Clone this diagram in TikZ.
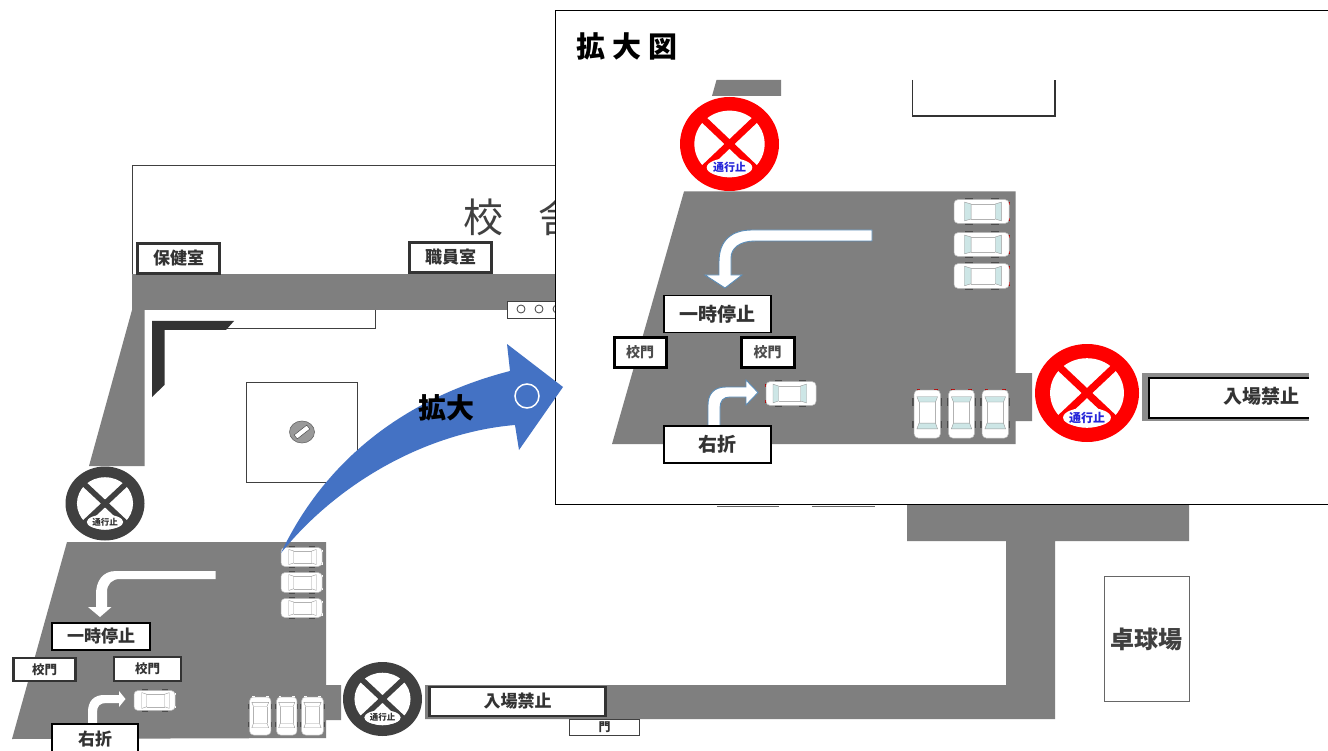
\documentclass[tikz,border=0pt]{standalone}
\usepackage{fontspec}
\setmainfont{Noto Sans CJK JP}
\usepackage{tikz}
\definecolor{roadgray}{HTML}{7F7F7F}
\definecolor{arrowblue}{HTML}{4472C4}
\definecolor{glassblue}{HTML}{CDE6E6}
\definecolor{rimblue}{HTML}{5B8DB8}
\tikzset{
	px/.style={font=\bfseries\fontsize{#1}{#1}\selectfont},
	labelbox/.style={draw=black, fill=white, line width=2.2pt, inner sep=0pt},
	thinbox/.style={draw=black!75, fill=white, line width=0.8pt},
	plainline/.style={draw=black!75, line width=0.9pt},
	road/.style={fill=roadgray},
}
% name, colours, centre, radii, label size
\def\nosign#1[#2,#3](#4,#5)(#6:#7)#8{%
	\begin{scope}[shift={(#4,#5)},xscale=#6,yscale=#7]
		\fill[#2] (0,0) circle (1);
		\fill[white] (0,0) circle (0.71);
		\draw[#2, line width=#6*0.14pt] (-0.6,-0.6) -- (0.6,0.6);
		\draw[#2, line width=#6*0.14pt] (0.6,-0.6) -- (-0.6,0.6);
		\fill[white] (0,0.5) ellipse (0.46 and 0.2);
		\node[#3, px=#8] (#1) at (0,0.5) {通行止};
	\end{scope}}
% centre, length and width, angle, glass and lamp colours
\def\caricon(#1,#2)(#3:#4)[#5]#6#7{%
	\begin{scope}[shift={(#1,#2)},rotate=#5,xscale=#3/2,yscale=#4/2]
		\fill[black!70] (-0.6,-1.08) rectangle (-0.3,1.08);
		\fill[black!70] (0.35,-1.08) rectangle (0.65,1.08);
		\fill[#7] (0.96,-0.75) rectangle (1.04,-0.5);
		\fill[#7] (0.96,0.75) rectangle (1.04,0.5);
		\draw[draw=black!25, fill=white, rounded corners=4pt, line width=0.5pt] (-1,-0.95) rectangle (1,0.95);
		\draw[draw=black!40, fill=#6, line width=0.4pt] (-0.62,-0.75) -- (-0.38,-0.6) -- (-0.38,0.6) -- (-0.62,0.75) -- cycle;
		\draw[draw=black!40, fill=#6, line width=0.4pt] (0.72,-0.75) -- (0.5,-0.6) -- (0.5,0.6) -- (0.72,0.75) -- cycle;
		\draw[draw=black!30, line width=0.4pt] (-0.38,-0.6) -- (0.5,-0.6);
		\draw[draw=black!30, line width=0.4pt] (-0.38,0.6) -- (0.5,0.6);
	\end{scope}}

\begin{document}
\begin{tikzpicture}[x=1pt,y=-1pt]
	\clip (0,0) rectangle (1328,751);
	\fill[white] (0,0) rectangle (1328,751);

	% school building
	\draw[plainline] (132,274) -- (132,165) -- (640,165);
	\node[font=\fontsize{40}{40}\selectfont, text=black!75] (kou) at (483,217) {校};
	\node[font=\fontsize{40}{40}\selectfont, text=black!75] (sha) at (558,217) {舎};
	\fill[road] (132,274) rectangle (640,310);
	\fill[road] (132,310) -- (144.5,310) -- (144.5,466) -- (89,466) -- cycle;
	\node[labelbox, draw=black!80, px=17, text=black!80, minimum width=82pt, minimum height=30pt] (hokenshitsu) at (178.5,258.5) {保健室};
	\node[labelbox, draw=black!80, px=17, text=black!80, minimum width=82pt, minimum height=30pt] (shokuinshitsu) at (450.5,257.5) {職員室};

	\draw[thinbox] (507,301) rectangle (640,318);
	\foreach \cx in {521,539,557}
		\draw[black!75, line width=0.8pt] (\cx,309) circle (4);

	\draw[plainline] (375,310) -- (375,328) -- (226,328);
	\fill[black!80] (152,321) -- (234,321) -- (226,330) -- (164.5,330) -- (164.5,385) -- (152,397) -- cycle;

	% square with the statue
	\draw[plainline] (246,382) rectangle (357,482);
	\draw[black!60, fill=black!40, line width=0.6pt] (302,432) ellipse (12.5 and 11);
	\draw[black!70, fill=white, line width=0.5pt, rotate around={38:(302,432)}] (294,429.5) rectangle (310,434.5);

	% parking lot and road, main plan
	\fill[road] (67,542) -- (326,542) -- (326,685) -- (341,685) -- (341,720) -- (326,720) -- (326,738) -- (12,739) -- cycle;
	\fill[road] (425,685) -- (1006,685) -- (1006,541) -- (907,541) -- (907,505) -- (1189,505) -- (1189,541) -- (1055,541) -- (1055,719) -- (425,719) -- cycle;

	\fill[white] (215.5,571) -- (116,571) .. controls (102,571) and (96,582) .. (96,594) -- (96,607) -- (88,607) -- (100,617) -- (111.5,607) -- (107,607) -- (107,592) .. controls (107,584) and (112,579) .. (120,579) -- (215.5,579) -- cycle;
	\fill[white] (88,724) -- (88,712) .. controls (88,701) and (94,695) .. (104,695) -- (119,695) -- (119,691) -- (125.5,699) -- (119,707) -- (119,703) -- (106,703) .. controls (100,703) and (97,706) .. (97,712) -- (97,724) -- cycle;

	\caricon(301.5,557)(41:20)[0]{white}{white}
	\caricon(301.5,582.5)(41:21)[0]{white}{white}
	\caricon(301.5,608)(41:20)[0]{white}{white}
	\caricon(154.5,700.5)(41:21)[0]{white}{white}
	\caricon(260.25,716)(38:22.5)[90]{white}{white}
	\caricon(286.75,716)(38:21.5)[90]{white}{white}
	\caricon(312.5,716)(38:23)[90]{white}{white}

	\node[labelbox, px=17, text=black!80, minimum width=98pt, minimum height=27pt] (ichiji) at (101,636.5) {一時停止};
	\node[labelbox, draw=black!80, px=12.5, text=black!80, minimum width=62pt, minimum height=23pt] (koumonA) at (44.5,669.5) {校門};
	\node[labelbox, draw=black!80, px=12.5, text=black!80, minimum width=67pt, minimum height=24pt] (koumonB) at (147.5,669) {校門};
	\node[labelbox, minimum width=86pt, minimum height=30pt, px=17, text=black!80] (usetsu) at (95,739) {右折};
	\node[labelbox, draw=black!80, px=17, text=black!80, minimum width=176pt, minimum height=29pt] (kinshi) at (517.5,701.5) {入場禁止};
	\node[thinbox, px=12, text=black!80, inner sep=0pt, minimum width=70pt, minimum height=16pt] (mon) at (604.5,727) {門};

	\nosign{signA}[black!75,black!80](105,503.5)(39.5:37){8.5}
	\nosign{signB}[black!75,black!80](382.5,699)(39.5:37){8.5}

	% table tennis hall
	\node[thinbox, draw=black!60, px=24, text=black!75, inner sep=0pt, minimum width=85pt, minimum height=125pt] (takkyu) at (1146.5,639) {卓球場};

	% boxes that show below the inset
	\draw[black!60, line width=0.9pt] (717,506) -- (779,506);
	\draw[black!60, line width=0.9pt] (812,506) -- (875,506);

	% inset
	\draw[black, fill=white, line width=1pt] (555,10.5) rectangle (1335,504.5);
	\node[anchor=west, inner sep=0pt, px=29] (kakudaizu) at (576,46.5) {拡\hspace{7pt}大\hspace{7pt}図};

	\fill[road] (716.5,80) -- (781,80) -- (781,96) -- (712,96) -- cycle;
	\draw[black!80, line width=1.2pt] (912.5,80) -- (912.5,116) -- (1055,116) -- (1055,80);

	\fill[road] (684,191.5) -- (1015.5,191.5) -- (1015.5,373) -- (1032,373) -- (1032,421) -- (1015.5,421) -- (1015.5,444) -- (612,444) -- cycle;
	\fill[roadgray!90!white] (1142,373) rectangle (1309,421);

	\draw[rimblue, fill=white, line width=0.9pt] (872,230) -- (752,230) .. controls (732,230) and (719,240) .. (719,262) -- (719,275) -- (705,275) -- (725,288) -- (742,275) -- (731,275) -- (731,258) .. controls (731,248) and (740,241) .. (755,241) -- (872,241) -- cycle;
	\draw[rimblue, fill=white, line width=0.9pt] (708,426) -- (708,405) .. controls (708,394) and (714,387) .. (726,387) -- (746,387) -- (746,380) -- (758,392.5) -- (746,405) -- (746,397) -- (730,397) .. controls (723,397) and (720,401) .. (720,408) -- (720,426) -- cycle;

	\caricon(981.5,211.5)(55:25)[0]{glassblue}{red!70!black}
	\caricon(981.5,244.5)(55:25)[0]{glassblue}{red!70!black}
	\caricon(981.5,276)(55:26)[0]{glassblue}{red!70!black}
	\caricon(791,393.5)(50:25)[180]{glassblue}{red!70!black}
	\caricon(927.25,414)(48:27.5)[90]{glassblue}{red!70!black}
	\caricon(961.5,414)(48:27)[90]{glassblue}{red!70!black}
	\caricon(995.25,414)(48:27.5)[90]{glassblue}{red!70!black}

	\node[labelbox, line width=1.2pt, px=19, text=black!80, minimum width=107pt, minimum height=37pt] (ichijiB) at (717.5,314) {一時停止};
	\node[labelbox, line width=3pt, px=14, text=black!70, minimum width=52pt, minimum height=29pt] (koumonC) at (640,352.5) {校門};
	\node[labelbox, line width=3pt, px=14, text=black!70, minimum width=53pt, minimum height=29pt] (koumonD) at (767.5,352.5) {校門};
	\node[labelbox, line width=1.2pt, px=19, text=black!80, minimum width=107pt, minimum height=37pt] (usetsuB) at (717.5,444.5) {右折};

	\fill[white] (1149,378) rectangle (1309,418);
	\draw[black, line width=2pt] (1309,378) -- (1149,378) -- (1149,418) -- (1309,418);
	\node[px=19, text=black!80] (kinshiB) at (1261.5,396) {入場禁止};

	\nosign{signC}[red,blue!70!gray](729.5,144)(49.5:47){11}
	\nosign{signD}[red,blue!70!gray](1087,393)(52:49){12}

	% arrow to the inset
	\fill[arrowblue] (281,553) .. controls (325,460) and (405,398) .. (510,371) -- (507,344) -- (563,387) -- (519,450) -- (515,425) .. controls (430,432) and (340,480) .. (281,553) -- cycle;
	\draw[white, line width=1.5pt] (527,396) circle (12);
	\node[inner sep=0pt, px=28] (kakudai) at (446,408) {拡大};
\end{tikzpicture}
\end{document}
